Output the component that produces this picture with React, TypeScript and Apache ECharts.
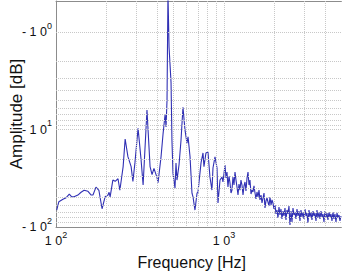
import React, { useEffect, useRef } from "react";
import * as echarts from "echarts";

// Frequency (Hz) of each sample of the spectrum
const freqHz = [
  101, 104, 110, 115, 120, 124, 128, 135, 141, 147, 155, 162, 166, 173, 180, 188, 196, 204, 207, 210,
  218, 225, 234, 240, 251, 258, 268, 280, 287, 295, 308, 321, 330, 348, 363, 373, 383, 399, 405, 422,
  434, 446, 452, 458, 464, 471, 484, 490, 497, 511, 518, 525, 540, 555, 570, 586, 602, 611, 628, 645,
  654, 672, 691, 700, 730, 750, 760, 781, 803, 825, 848, 860, 884, 909, 921, 947, 973, 986,
  1014, 1028, 1042, 1056, 1071, 1086, 1101, 1116, 1131, 1147, 1163, 1179, 1195, 1212, 1228, 1245, 1262, 1280, 1298, 1316,
  1334, 1352, 1371, 1390, 1409, 1428, 1448, 1468, 1488, 1509, 1530, 1551, 1572, 1594, 1616, 1638, 1661, 1684, 1707, 1731,
  1754, 1778, 1803, 1828, 1853, 1879, 1905, 1931, 1957, 1984,
  2012, 2040, 2068, 2096, 2125, 2154, 2184, 2214, 2245, 2276,
  2307, 2339, 2371, 2404, 2437, 2471, 2505, 2540, 2575, 2610, 2646, 2683, 2720, 2757, 2795, 2834, 2873, 2913,
  2953, 2994, 3035, 3077, 3119, 3162, 3206, 3250, 3295, 3340, 3387, 3433, 3481, 3529, 3577, 3627, 3677, 3728,
  3779, 3831, 3884, 3938, 3992, 4047, 4103, 4159, 4217, 4275, 4334, 4394, 4454, 4516, 4578, 4642, 4706, 4771,
  4836, 4903, 4971,
];

// Amplitude (dB) of each sample
const amplitudeDb = [
  -67, -55, -52, -50, -46, -49, -49, -47, -44, -42, -43, -47, -47, -39, -42, -65, -49, -47, -44, -49,
  -33, -34, -32, -42, -24, -12.5, -19, -24, -34, -22, -9.7, -20.5, -37, -6.3, -24, -29, -25, -31, -35, -19,
  -11, -7, -9.4, -5, -0.4, -1.43, -3.3, -12.8, -28, -40, -22, -33, -23, -12.8, -5.9, -10.1, -13.8, -11.9, -19, -45,
  -49, -67, -45, -44, -22, -17.4, -24, -17.4, -17, -30.7, -41.8, -24.8, -19.1, -24.8, -56.7, -33, -30.7, -34.5,
  -23.1, -31.4, -27.3, -38.9, -30.0, -35.4, -44.8, -41.8, -30.7, -37.1, -27.3, -33.0, -38.9, -47.0, -36.2, -41.8, -33.0, -37.1, -47.0, -37.9,
  -34.5, -42.7, -31.4, -27.3, -37.1, -33.0, -45.9, -41.8, -43.7, -37.9, -44.8, -51.6, -43.7, -49.2, -41.8, -52.8, -47.0, -56.7, -50.4, -44.8,
  -63.8, -54.1, -50.4, -55.4, -60.9, -49.2, -59.5, -52.8, -56.7, -65.3,
  -59.5, -73.5, -66.9, -80.8, -62.3, -75.3, -65.3, -82.7, -68.5, -77.1,
  -63.8, -84.7, -66.9, -73.5, -60.9, -95.3, -68.5, -88.8, -63.8, -75.3, -70.2, -82.7, -65.3, -77.1, -68.5, -86.7, -66.9, -78.9,
  -70.2, -82.7, -65.3, -77.1, -71.8, -91.0, -66.9, -78.9, -70.2, -84.7, -68.5, -77.1, -71.8, -86.7, -66.9, -80.8, -70.2, -82.7,
  -68.5, -78.9, -73.5, -88.8, -68.5, -80.8, -71.8, -84.7, -70.2, -78.9, -73.5, -86.7, -70.2, -82.7, -73.5, -88.8, -71.8, -80.8,
  -75.3, -86.7, -77.1,
];

// Decade ticks (powers of ten) shown as labels
const xTickExponents = [2, 3];
const yTickExponents = [0, 1, 2];

// Grid lines (log grid)
const gridFreqs = [200, 300, 400, 500, 600, 700, 800, 900, 1000, 2000, 3000, 4000];
const gridMags = [1, 2, 3, 4, 5, 6, 7, 8, 9, 10, 20, 30, 40, 50, 60, 70, 80, 90];

const FONT = "'Liberation Sans', Arial, sans-serif";

function decadeExp(v: number, allowed: number[]): number | null {
  const l = Math.log10(v);
  const e = Math.round(l);
  if (Math.abs(l - e) > 1e-6) return null;
  return allowed.includes(e) ? e : null;
}

export default function App() {
  const ref = useRef<HTMLDivElement>(null);

  useEffect(() => {
    const chart = echarts.init(ref.current!, null, { renderer: "svg" });
    const data = freqHz.map((f, i) => [f, -amplitudeDb[i]]);
    const rich = {
      n: { fontSize: 12.5, lineHeight: 22, fontFamily: FONT, color: "#111" },
      s: { fontSize: 9, lineHeight: 9, verticalAlign: "top", fontFamily: FONT, color: "#111" },
    };
    const axisLineStyle = { color: "#8c8c8c", width: 1 };
    const option: any = {
      animation: false,
      backgroundColor: "#fff",
      grid: { left: 56, top: 1, width: 285.4, height: 226, containLabel: false, outerBoundsMode: "none" },
      xAxis: [
        {
          type: "log",
          logBase: 10,
          min: 100,
          max: 5000,
          name: "Frequency [Hz]",
          nameLocation: "middle",
          nameGap: 27,
          nameMoveOverlap: false,
          nameTextStyle: { fontSize: 16, fontFamily: FONT, color: "#111", padding: [0, 14, 0, 0] },
          axisLine: { show: true, lineStyle: axisLineStyle },
          axisTick: { show: false },
          splitLine: { show: false },
          axisLabel: {
            margin: 3,
            formatter: (v: number) => {
              const e = decadeExp(v, xTickExponents);
              return e === null ? "" : `{n|1 0}{s|${e}}`;
            },
            rich,
          },
        },
        {
          type: "log",
          logBase: 10,
          min: 100,
          max: 5000,
          position: "top",
          axisLine: { show: true, lineStyle: axisLineStyle },
          axisTick: { show: false },
          axisLabel: { show: false },
          splitLine: { show: false },
        },
      ],
      yAxis: {
        type: "log",
        logBase: 10,
        min: 0.48,
        max: 100,
        inverse: true,
        name: "Amplitude [dB]",
        nameLocation: "middle",
        nameGap: 31,
        nameMoveOverlap: false,
        nameTextStyle: { fontSize: 17, fontFamily: FONT, color: "#111" },
        axisLine: { show: true, lineStyle: axisLineStyle },
        axisTick: { show: false },
        splitLine: { show: false },
        axisLabel: {
          margin: 4,
          formatter: (v: number) => {
            const e = decadeExp(v, yTickExponents);
            return e === null ? "" : `{n|- 1 0}{s|${e}}`;
          },
          rich,
        },
      },
      series: [
        {
          type: "line",
          data: [[100, 1]],
          symbol: "none",
          lineStyle: { opacity: 0 },
          silent: true,
          z: 1,
          markLine: {
            silent: true,
            symbol: ["none", "none"],
            label: { show: false },
            animation: false,
            lineStyle: { color: "#c8c8c8", type: "dotted", width: 1 },
            emphasis: { disabled: true },
            data: [
              ...gridMags.map((v) => ({ yAxis: v })),
              ...gridFreqs.map((v) => ({ xAxis: v })),
            ],
          },
        },
        {
          type: "line",
          data,
          symbol: "none",
          showSymbol: false,
          clip: true,
          z: 3,
          lineStyle: { color: "#3030b4", width: 1.1 },
        },
      ],
    };
    chart.setOption(option);
    return () => chart.dispose();
  }, []);

  return (
    <div
      ref={ref}
      style={{ position: "fixed", left: 0, top: 0, width: 342, height: 273, background: "#fff" }}
    />
  );
}
